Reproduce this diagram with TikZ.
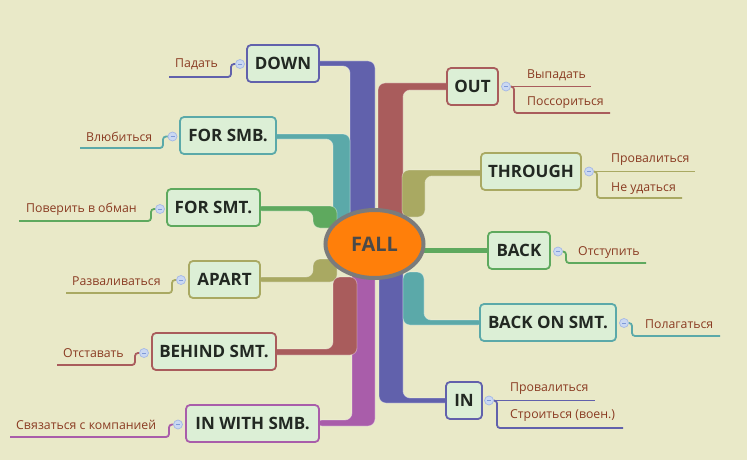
\documentclass[tikz,border=0pt]{standalone}
\usepackage{fontspec}
\setmainfont{Open Sans}
\usetikzlibrary{shapes.geometric}
\definecolor{bg}{HTML}{E9E9C8}
\definecolor{nodefill}{HTML}{DCEFD6}
\definecolor{cpur}{HTML}{6161AC}
\definecolor{cteal}{HTML}{5BA9A9}
\definecolor{cgrn}{HTML}{5EA95E}
\definecolor{coli}{HTML}{A9A962}
\definecolor{cred}{HTML}{A95C5C}
\definecolor{cmag}{HTML}{A95DAA}
\definecolor{leaftxt}{HTML}{8A3B22}
\definecolor{ellfill}{HTML}{FF7F0A}
\definecolor{ellline}{HTML}{7B7B7B}
\definecolor{falltxt}{HTML}{4A4A4A}
\definecolor{nodetxt}{HTML}{222822}
\definecolor{mkfill}{HTML}{CAD8F2}
\definecolor{mkline}{HTML}{A5B8E6}
\definecolor{mkdash}{HTML}{7F9AD8}
\tikzset{
  band/.style={rounded corners=7, draw=white, draw opacity=0.35, line width=0.8},
  mainbox/.style={draw, line width=1.8, rounded corners=4, fill=nodefill, text=nodetxt,
    font=\fontsize{17}{20}\selectfont\bfseries, inner sep=0, minimum height=37},
  leaftext/.style={text=leaftxt, font=\fontsize{12.3}{14}\selectfont, anchor=base west, inner sep=0},
  leafline/.style={line width=1.8, rounded corners=3},
  marker/.style={circle, minimum size=9, inner sep=0, fill=mkfill, draw=mkline, line width=0.7,
    path picture={\draw[mkdash, line width=0.8] ([xshift=-2pt]path picture bounding box.center) -- ([xshift=2pt]path picture bounding box.center);}}
}
\begin{document}
\begin{tikzpicture}[x=1pt,y=-1pt]
\path[fill=bg] (0,0) rectangle (747,460);
\useasboundingbox (0,0) rectangle (747,460);

% bands
\filldraw[fill=cpur, band] (310,61) -- (375,61) -- (375,225) -- (350,225) -- (350,66) -- (310,66) -- cycle;
\filldraw[fill=cteal, band] (270,134) -- (350,134) -- (350,222) -- (333,222) -- (333,139) -- (270,139) -- cycle;
\filldraw[fill=cgrn, band] (255,206) -- (337,206) -- (337,228) -- (313,228) -- (313,211) -- (255,211) -- cycle;
\filldraw[fill=coli, band] (255,277) -- (313,277) -- (313,259) -- (337,259) -- (337,282) -- (255,282) -- cycle;
\filldraw[fill=cmag, band] (315,420) -- (352,420) -- (352,262) -- (375,262) -- (375,426) -- (315,426) -- cycle;
\filldraw[fill=cred, band] (270,349) -- (333,349) -- (333,277) -- (357,277) -- (357,355) -- (270,355) -- cycle;
\filldraw[fill=cred, band] (455,83) -- (378,83) -- (378,222) -- (403,222) -- (403,90) -- (455,90) -- cycle;
\filldraw[fill=coli, band] (490,170) -- (402,170) -- (402,217) -- (425,217) -- (425,176) -- (490,176) -- cycle;
\filldraw[fill=cpur, band] (403,265) -- (403,398) -- (455,398) -- (455,403) -- (379,403) -- (379,265) -- cycle;
\filldraw[fill=cteal, band] (403,272) -- (424,272) -- (424,320) -- (485,320) -- (485,325) -- (403,325) -- cycle;

% main nodes
\node[mainbox, draw=cpur, minimum width=72] (down) at (283,63.5) {DOWN};
\node[mainbox, draw=cteal, minimum width=96] (forsmb) at (228,135.5) {FOR SMB.};
\node[mainbox, draw=cgrn, minimum width=93] (forsmt) at (213.5,207.5) {FOR SMT.};
\node[mainbox, draw=coli, minimum width=71] (apart) at (224.5,279.5) {APART};
\node[mainbox, draw=cred, minimum width=124] (behind) at (214,351.5) {BEHIND SMT.};
\node[mainbox, draw=cmag, minimum width=133] (inwith) at (252.5,423.5) {IN WITH SMB.};
\node[mainbox, draw=cred, minimum width=51] (out) at (472.5,86.5) {OUT};
\node[mainbox, draw=coli, minimum width=100] (through) at (531,171.5) {THROUGH};
\node[mainbox, draw=cgrn, minimum width=62] (back) at (519,250.5) {BACK};
\node[mainbox, draw=cteal, minimum width=136] (backon) at (548,322.5) {BACK ON SMT.};
\node[mainbox, draw=cpur, minimum width=36] (in) at (464,400.5) {IN};

% centre
\coordinate (ctr) at (374.5,244);
\draw[cgrn, line width=5] (ctr |- back.west) -- (back.west);
\node[ellipse, draw=ellline, line width=4, fill=ellfill, minimum width=98, minimum height=68,
  text=falltxt, font=\fontsize{20}{24}\selectfont\bfseries, inner sep=0] (fall) at (ctr) {FALL};

% marker positions
\coordinate (pdown) at (240,64);
\coordinate (pforsmb) at (172.5,136.5);
\coordinate (pforsmt) at (160,209);
\coordinate (papart) at (181,280);
\coordinate (pbehind) at (144,353);
\coordinate (pinwith) at (178,424.5);
\coordinate (pout) at (506,86.5);
\coordinate (pthrough) at (589,171.5);
\coordinate (pback) at (558,251.5);
\coordinate (pbackon) at (624,323);
\coordinate (pin) at (489,400.5);

% leaf lines
\draw[leafline, cpur] ([xshift=-4.5pt]pdown) -| (231,77) -- (169,77);
\draw[leafline, cteal] ([xshift=-4.5pt]pforsmb) -| (163,148) -- (80,148);
\draw[leafline, cgrn] ([xshift=-4.5pt]pforsmt) -| (151,221) -- (19,221);
\draw[leafline, coli] ([xshift=-4.5pt]papart) -| (172,293) -- (66,293);
\draw[leafline, cred] ([xshift=-4.5pt]pbehind) -| (135,365) -- (57,365);
\draw[leafline, cmag] ([xshift=-4.5pt]pinwith) -| (169,437) -- (10,437);
\draw[leafline, cred] ([xshift=4.5pt]pout) -- (591,86.5);
\draw[leafline, cred] ([xshift=4.5pt]pout) -| (514,113) -- (610,113);
\draw[leafline, coli] ([xshift=4.5pt]pthrough) -- (695,171.5);
\draw[leafline, coli] ([xshift=4.5pt]pthrough) -| (597,198) -- (682,198);
\draw[leafline, cgrn] ([xshift=4.5pt]pback) -| (566,263) -- (646,263);
\draw[leafline, cteal] ([xshift=4.5pt]pbackon) -| (632,336) -- (720,336);
\draw[leafline, cpur] ([xshift=4.5pt]pin) -- (595,400.5);
\draw[leafline, cpur] ([xshift=4.5pt]pin) -| (497,428) -- (623,428);

% markers
\node[marker] (mdown) at (pdown) {};
\node[marker] (mforsmb) at (pforsmb) {};
\node[marker] (mforsmt) at (pforsmt) {};
\node[marker] (mapart) at (papart) {};
\node[marker] (mbehind) at (pbehind) {};
\node[marker] (minwith) at (pinwith) {};
\node[marker] (mout) at (pout) {};
\node[marker] (mthrough) at (pthrough) {};
\node[marker] (mback) at (pback) {};
\node[marker] (mbackon) at (pbackon) {};
\node[marker] (min) at (pin) {};

% leaf texts
\node[leaftext] (t1) at (175,68) {Падать};
\node[leaftext] (t2) at (86,141) {Влюбиться};
\node[leaftext] (t3) at (26,212) {Поверить в обман};
\node[leaftext] (t4) at (72,285) {Разваливаться};
\node[leaftext] (t5) at (63,357) {Отставать};
\node[leaftext] (t6) at (16,429) {Связаться с компанией};
\node[leaftext] (t7) at (527,78) {Выпадать};
\node[leaftext] (t8) at (527,105) {Поссориться};
\node[leaftext] (t9) at (611,162) {Провалиться};
\node[leaftext] (t10) at (611,191) {Не удаться};
\node[leaftext] (t11) at (578,255) {Отступить};
\node[leaftext] (t12) at (645,328) {Полагаться};
\node[leaftext] (t13) at (510,391) {Провалиться};
\node[leaftext] (t14) at (510,418) {Строиться (воен.)};
\end{tikzpicture}
\end{document}
